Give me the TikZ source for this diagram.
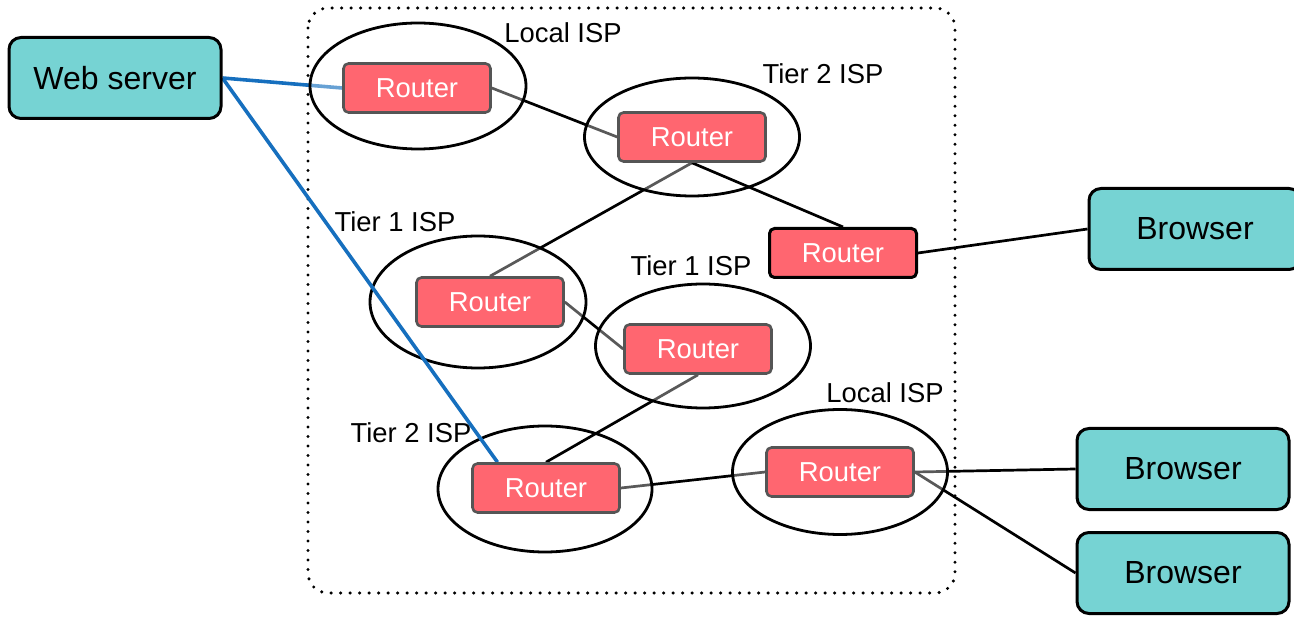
\documentclass[tikz,border=0pt]{standalone}
\usepackage{fontspec}
\setmainfont{Liberation Sans}
\usetikzlibrary{shapes.geometric,backgrounds}
\definecolor{servercol}{RGB}{118,211,211}
\definecolor{routercol}{RGB}{255,102,112}
\definecolor{linkblue}{RGB}{22,111,190}
\definecolor{routeredge}{RGB}{85,85,85}
\begin{document}
\begin{tikzpicture}[x=0.5pt, y=-0.5pt,
    server/.style={draw=black, line width=1.5pt, fill=servercol, rounded corners=6pt,
      minimum width=106pt, minimum height=40.5pt, font=\fontsize{16}{19}\selectfont},
    router/.style={draw=routeredge, line width=1.3pt, fill=routercol, rounded corners=2.5pt,
      minimum width=73.5pt, minimum height=24.5pt, text=white, font=\fontsize{13.7}{16}\selectfont},
    isp/.style={draw=black, line width=1.4pt, ellipse, fill=white, fill opacity=0.35, inner sep=0pt},
    tag/.style={font=\fontsize{13.7}{16}\selectfont},
    link/.style={line width=1.35pt},
    weblink/.style={line width=1.8pt, draw=linkblue}]
      \useasboundingbox (0, 0) rectangle (1294, 624);
      \node[server] (web) at (115, 78) {Web server};
      \node[server] (brA) at (1195, 229) {Browser};
      \node[server] (brB) at (1183, 469) {Browser};
      \node[server] (brC) at (1183, 573) {Browser};
      \node[router] (rLocalA) at (417, 88) {Router};
      \node[router] (rTierTwoA) at (692, 137) {Router};
      \node[router, draw=black, line width=1.5pt] (rEdge) at (843, 253) {Router};
      \node[router] (rTierOneA) at (490, 302) {Router};
      \node[router] (rTierOneB) at (698, 349) {Router};
      \node[router] (rTierTwoB) at (546, 488) {Router};
      \node[router] (rLocalB) at (840, 472) {Router};
      \node[tag] (tLocalA) at (563, 33) {Local ISP};
      \node[tag] (tTierTwoA) at (823, 74) {Tier 2 ISP};
      \node[tag] (tTierOneA) at (395, 222) {Tier 1 ISP};
      \node[tag] (tTierOneB) at (691, 266) {Tier 1 ISP};
      \node[tag] (tTierTwoB) at (411, 433) {Tier 2 ISP};
      \node[tag] (tLocalB) at (885, 393) {Local ISP};
      \begin{scope}[on background layer]
        \draw[line width=1.7pt, dash pattern=on 0pt off 4.75pt, line cap=round, rounded corners=10pt]
          (308, 8) rectangle (955, 593);
        % links seen through the ISP ovals
        \draw[weblink] (web.east) -- (rLocalA.west);
        \draw[link] (rLocalA.east) -- (rTierTwoA.west);
        \draw[link] (rTierTwoA.south) -- (rTierOneA.north);
        \draw[link] (rTierOneA.east) -- (rTierOneB.west);
        \draw[link] (rTierTwoB.east) -- (rLocalB.west);
        \draw[link] (rLocalB.east) -- (brB.west);
        \draw[link] (rLocalB.east) -- (brC.west);
        \node[isp, minimum width=107pt, minimum height=63pt] (ispTierTwoB) at (545, 489) {};
        \node[isp, minimum width=107.5pt, minimum height=59pt] (ispTierTwoA) at (692, 137) {};
        \draw[link] (rTierOneB.south) -- (rTierTwoB.north);
        \draw[link] (rTierTwoA.south) -- (rEdge.north);
        \node[isp, minimum width=108pt, minimum height=63pt] (ispLocalA) at (418, 86) {};
        \node[isp, minimum width=108pt, minimum height=66pt] (ispTierOneA) at (478, 302) {};
        \node[isp, minimum width=107.5pt, minimum height=62pt] (ispTierOneB) at (703, 346) {};
        \node[isp, minimum width=107.5pt, minimum height=62.5pt] (ispLocalB) at (840, 472) {};
        \draw[weblink] (web.east) -- (rTierTwoB.152);
        \draw[link] (rEdge.east) -- (brA.west);
      \end{scope}
    \end{tikzpicture}
\end{document}
